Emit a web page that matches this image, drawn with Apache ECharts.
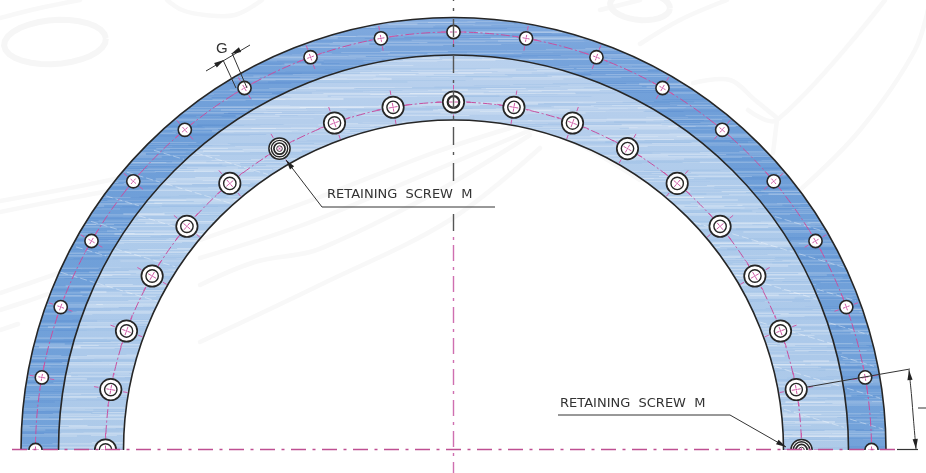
<!DOCTYPE html>
<html>
<head>
<meta charset="utf-8">
<style>html,body{margin:0;padding:0;background:#fff}#c{width:926px;height:473px}</style>
<script src="https://cdn.jsdelivr.net/npm/echarts@6/dist/echarts.min.js"></script>
</head>
<body>
<div id="c"></div>
<script>
// ---- values ----
const ringRadii = [432.5, 395, 330];
const outerPitchRadius = 418;
const innerPitchRadius = 348;
const outerHoleAngles = [180,170,160,150,140,130,120,110,100,90,80,70,60,50,40,30,20,10,0];
const innerHoleAngles = [180,170,160,150,140,130,120,110,100,90,80,70,60,50,40,30,20,10,0];
const retainingScrewAngles = [120, 0];
const thickHoleAngles = [90];
const labels = ['RETAINING  SCREW  M', 'RETAINING  SCREW  M', 'G'];
const center = [453.5, 450];

// ---- style tables ----
const PINK = '#c64f9f', INK = '#262626';
const frac=v=>v-Math.floor(v);

// brushed-metal texture: fixed low-discrepancy sequence of horizontal strokes
function ringTexture(tones,lightAlpha,darkColor,darkAlpha,count){
  const cv=document.createElement('canvas'); cv.width=926; cv.height=473;
  const g=cv.getContext('2d');
  const grad=g.createLinearGradient(0,0,0,473);
  tones.forEach(t=>grad.addColorStop(t[0]/473,t[1]));
  g.fillStyle=grad; g.fillRect(0,0,926,473);
  for(let i=1;i<=count;i++){
    const x=frac(i*.6180339887)*1000-60, y=frac(i*.7548776662)*473,
          len=25+frac(i*.5698402910)*150, a=frac(i*.4142135624), h=i%5===0?2:1;
    if(i%3===0){ g.fillStyle=darkColor; g.globalAlpha=darkAlpha*(.4+.6*a); }
    else { g.fillStyle='#fff'; g.globalAlpha=lightAlpha*(.3+.7*a); }
    g.fillRect(x,Math.round(y),len,h);
  }
  g.globalAlpha=1;
  return {image:cv,repeat:'no-repeat'};
}
const outerFill = ringTexture([[0,'#86ade0'],[60,'#76a3db'],[130,'#6e9ed8'],[300,'#70a0d9'],[473,'#74a3da']],.22,'#4f85cc',.28,2600);
const innerFill = ringTexture([[0,'#bcd3ef'],[120,'#b5ceec'],[200,'#aecbeb'],[350,'#acc9ea'],[473,'#afcbe9']],.32,'#8fb6e2',.3,2600);

const polar=(r,deg)=>{const a=deg*Math.PI/180;return [center[0]+r*Math.cos(a),center[1]-r*Math.sin(a)];};

function streaks(api,R1,R2,rows){
  const out=[];
  rows.forEach(y0=>{
    let run=[];
    const flush=()=>{ if(run.length>3) out.push({type:'polyline',shape:{points:run.map(p=>api.coord(p))},
      style:{fill:null,stroke:'rgba(255,255,255,.38)',lineWidth:1,lineDash:[7,3]}}); run=[]; };
    for(let x=10;x<916;x+=3){
      const y=y0+.3*(x-453), d=Math.hypot(x-center[0],y-center[1]);
      if(d>R2+1&&d<R1-1&&y<448&&y>150) run.push([x,y]); else flush();
    }
    flush();
  });
  return out;
}

function ringItem(params,api){
  const o=api.coord(center);
  const ringSector=(r0,r,fill)=>({type:'sector',shape:{cx:o[0],cy:o[1],r0,r,startAngle:Math.PI,endAngle:2*Math.PI,clockwise:true},style:{fill}});
  const arc=(r)=>({type:'arc',shape:{cx:o[0],cy:o[1],r,startAngle:Math.PI,endAngle:2*Math.PI,clockwise:true},style:{fill:null,stroke:INK,lineWidth:1.6}});
  const px=v=>api.size([v,0])[0];
  return {type:'group',children:[
    ringSector(px(ringRadii[1]),px(ringRadii[0]),outerFill),
    ringSector(px(ringRadii[2]),px(ringRadii[1]),innerFill),
    ...streaks(api,ringRadii[0],ringRadii[1],[120,150,180,210,240,270,300,330,360,390]),
    ...streaks(api,ringRadii[1],ringRadii[2],[150,190,230,270,310,350,390]),
    arc(px(ringRadii[0])),arc(px(ringRadii[1])),arc(px(ringRadii[2]))
  ]};
}
function pitchItem(params,api){
  const o=api.coord(center), r=api.size([api.value(0),0])[0];
  return {type:'arc',shape:{cx:o[0],cy:o[1],r,startAngle:Math.PI,endAngle:2*Math.PI,clockwise:true},
    style:{fill:null,stroke:PINK,lineWidth:1,lineDash:[9,2.5,2,2.5]}};
}
function crossLines(api,R,deg,inner,t0,t1){
  const a=deg*Math.PI/180, u=[Math.cos(a),-Math.sin(a)], v=[Math.sin(a),Math.cos(a)];
  const c=api.coord(polar(R,deg)), out=[];
  const seg=(d,s,e)=>({type:'line',shape:{x1:c[0]+d[0]*s,y1:c[1]+d[1]*s,x2:c[0]+d[0]*e,y2:c[1]+d[1]*e},style:{stroke:'#d05aa8',lineWidth:1}});
  [u,v].forEach(d=>{
    out.push(seg(d,-inner,-1.2),seg(d,1.2,inner));
    out.push(seg(d,-.8,.8));
    out.push(seg(d,t0,t1),seg(d,-t1,-t0));
  });
  return out;
}
function outerHoleItem(params,api){
  const deg=api.value(0), c=api.coord(polar(outerPitchRadius,deg));
  return {type:'group',children:[
    {type:'circle',shape:{cx:c[0],cy:c[1],r:6.6},style:{fill:'#fff',stroke:INK,lineWidth:1.6}},
    ...crossLines(api,outerPitchRadius,deg,3.5,8,12.5)
  ]};
}
function innerHoleItem(params,api){
  const deg=api.value(0), c=api.coord(polar(innerPitchRadius,deg));
  const ring=(r,w,f)=>({type:'circle',shape:{cx:c[0],cy:c[1],r},style:{fill:f||'#fff',stroke:INK,lineWidth:w}});
  const kids=[ring(10.7,1.7),ring(6.2,1.4)];
  if(retainingScrewAngles.includes(deg)){ kids.length=0; kids.push(ring(10.6,1.5),ring(8.2,1.4),ring(5.6,1.7),ring(2.8,.9)); }
  if(thickHoleAngles.includes(deg)){ kids.push(ring(5.4,1.3)); }
  return {type:'group',children:[...kids,...crossLines(api,innerPitchRadius,deg,retainingScrewAngles.includes(deg)?2.5:4.5,12.5,17)]};
}

// faint ghost drawing behind the rings
const ghostEllipses=[[55,42,51,22,-4],[640,6,30,14,5]];
const ghostPaths=[
 [[0,18],[40,8],[80,0]],
 [[167,0],[182,10],[205,15],[235,15],[262,0]],
 [[0,201],[60,190],[130,176]],[[0,212],[60,200],[115,190]],
 [[0,293],[30,283],[62,272]],[[0,310],[25,302],[48,294]],[[0,330],[18,324]],
 [[200,240],[320,197],[433,153],[520,125]],
 [[200,258],[300,226],[400,185],[540,126]],
 [[200,285],[255,262],[310,252],[340,240],[370,226],[440,190],[530,135]],
 [[200,342],[320,285],[450,220],[540,148]],
 [[540,128],[590,150],[640,180]],
 [[640,44],[680,20],[727,0]],
 [[693,83],[730,80],[755,100],[777,118]],
 [[748,110],[777,120],[885,0]],
 [[777,120],[773,153]],
 [[800,190],[860,130],[915,50],[930,0]],
 [[600,10],[640,0]]
];
function ghostItem(params,api){
  const kids=ghostPaths.map(p=>({type:'polyline',shape:{points:p.map(q=>api.coord(q)),smooth:.35},style:{fill:null,stroke:'#f8f8f8',lineWidth:4.5,lineCap:'round'}}));
  ghostEllipses.forEach(e=>{
    const pts=[]; const rot=e[4]*Math.PI/180;
    for(let d=0;d<=360;d+=12){const a=d*Math.PI/180,x=e[2]*Math.cos(a),y=e[3]*Math.sin(a);
      pts.push(api.coord([e[0]+x*Math.cos(rot)-y*Math.sin(rot),e[1]+x*Math.sin(rot)+y*Math.cos(rot)]));}
    kids.push({type:'polyline',shape:{points:pts},style:{fill:null,stroke:'#f6f6f6',lineWidth:6}});
  });
  return {type:'group',children:kids};
}
function maskItem(params,api){
  const a=api.coord([0,450]),b=api.coord([926,473]);
  return {type:'rect',shape:{x:a[0],y:a[1],width:b[0]-a[0],height:b[1]-a[1]},style:{fill:'#fff'}};
}
function centreItem(params,api){
  const L=(p,q,s,dash,w)=>{const A=api.coord(p),B=api.coord(q);return {type:'line',shape:{x1:A[0],y1:A[1],x2:B[0],y2:B[1]},style:{stroke:s,lineWidth:w||1.4,lineDash:dash}};};
  const x=453.5, pink='#cf6fb0', gray='#555';
  return {type:'group',children:[
    L([12,449.5],[897,449.5],'#bf4f92',[15,6.5,3,6.5],1.6),
    L([897,449.5],[918,449.5],'#333',null,1.2),
    L([x,-17],[x,182],gray,[18,7,3,8]),
    L([x,214],[x,231],gray,null),
    L([x,237],[x,240],pink,null),
    L([x,245],[x,473],pink,[16,6,3,6],1.4)
  ]};
}
const arrowLines=[
 [[286,160],[322,207],[495,207]],
 [[558,415],[730,415],[786,447]],
 [[206,71],[250,45]],
 [[223,60],[236,88]],
 [[232,53],[247,88]],
 [[807,387],[910,369]],
 [[918,408],[926,408]]
];
const arrowHeads=[
 [[286,160],[322,207]],
 [[786,447],[730,415]],
 [[224,60],[206,71]],
 [[231,54],[250,45]],
 [[909,370],[913,410]],
 [[916,449],[913,410]]
];
function annotationItem(params,api){
  const kids=arrowLines.map(l=>({type:'polyline',shape:{points:l.map(q=>api.coord(q))},style:{fill:null,stroke:'#333',lineWidth:1}}));
  const dim=[];
  for(const d of [[909,370],[911.5,395],[913.5,420],[916,449]]) dim.push(api.coord(d));
  kids.push({type:'polyline',shape:{points:dim,smooth:.3},style:{fill:null,stroke:'#333',lineWidth:1}});
  arrowHeads.forEach(h=>{
    const A=api.coord(h[0]),B=api.coord(h[1]);
    const dx=B[0]-A[0],dy=B[1]-A[1],n=Math.hypot(dx,dy),ux=dx/n,uy=dy/n,len=10,w=2.6;
    kids.push({type:'polygon',shape:{points:[A,[A[0]+ux*len-uy*w,A[1]+uy*len+ux*w],[A[0]+ux*len+uy*w,A[1]+uy*len-ux*w]]},style:{fill:'#222'}});
  });
  const txt=(s,p,font)=>{const c=api.coord(p);return {type:'text',style:{text:s,x:c[0],y:c[1],fill:'#333',font,textAlign:'left',textVerticalAlign:'middle'}};};
  kids.push(txt(labels[0],[327,195],'13px "DejaVu Sans"'));
  kids.push(txt(labels[1],[560,404],'13px "DejaVu Sans"'));
  kids.push(txt(labels[2],[216,49],'15px "Liberation Sans"'));
  return {type:'group',children:kids};
}

const one=[[0]];
const custom=(name,renderItem,data,z)=>({type:'custom',name,renderItem,data,z,silent:true,clip:false,animation:false,coordinateSystem:'cartesian2d'});
const chart=echarts.init(document.getElementById('c'),null,{renderer:'canvas'});
chart.setOption({
  animation:false,
  backgroundColor:'#fff',
  grid:{left:0,top:0,right:0,bottom:0},
  xAxis:{type:'value',min:0,max:926,show:false},
  yAxis:{type:'value',min:0,max:473,inverse:true,show:false},
  series:[
    custom('ghost',ghostItem,one,1),
    custom('rings',ringItem,one,2),
    custom('outerPitch',pitchItem,[[outerPitchRadius]],3),
    custom('innerPitch',pitchItem,[[innerPitchRadius]],3),
    custom('outerHoles',outerHoleItem,outerHoleAngles.map(a=>[a]),4),
    custom('innerHoles',innerHoleItem,innerHoleAngles.map(a=>[a]),4),
    custom('mask',maskItem,one,5),
    custom('centre',centreItem,one,6),
    custom('notes',annotationItem,one,7)
  ]
});
</script>
</body>
</html>
